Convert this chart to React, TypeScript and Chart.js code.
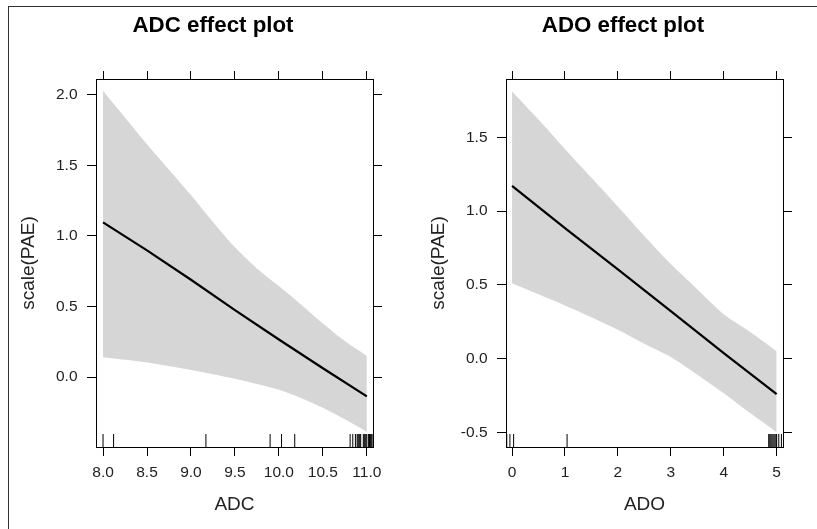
import React, { useEffect, useRef } from "react";
import { Chart, registerables } from "chart.js";

Chart.register(...registerables);

const FONT = '"Liberation Sans", Arial, Helvetica, sans-serif';

// ---------- ADC effect plot ----------
const adcTicksX = [8.0, 8.5, 9.0, 9.5, 10.0, 10.5, 11.0];
const adcTickLabelsX = ["8.0", "8.5", "9.0", "9.5", "10.0", "10.5", "11.0"];
const adcTicksY = [0.0, 0.5, 1.0, 1.5, 2.0];
const adcTickLabelsY = ["0.0", "0.5", "1.0", "1.5", "2.0"];
const adcFitX = [8.0, 8.5, 9.0, 9.5, 10.0, 10.5, 11.0];
const adcFit = [1.097, 0.898, 0.69, 0.475, 0.266, 0.062, -0.137];
const adcBandX = [8.0, 8.25, 8.5, 8.75, 9.0, 9.25, 9.5, 9.75, 10.0, 10.25, 10.5, 10.75, 11.0];
const adcUpper = [2.03, 1.84, 1.65, 1.47, 1.29, 1.1, 0.92, 0.77, 0.645, 0.515, 0.38, 0.255, 0.15];
const adcLower = [0.14, 0.122, 0.103, 0.078, 0.05, 0.02, -0.013, -0.05, -0.09, -0.148, -0.218, -0.3, -0.39];
const adcRug = [
  8.0, 8.12, 9.17, 9.9, 10.03, 10.18, 10.81, 10.84, 10.87, 10.89, 10.9, 10.91, 10.92, 10.93,
  10.96, 10.97, 10.98, 10.99, 11.0, 11.02, 11.03, 11.04, 11.05, 11.06,
];

// ---------- ADO effect plot ----------
const adoTicksX = [0, 1, 2, 3, 4, 5];
const adoTickLabelsX = ["0", "1", "2", "3", "4", "5"];
const adoTicksY = [-0.5, 0.0, 0.5, 1.0, 1.5];
const adoTickLabelsY = ["-0.5", "0.0", "0.5", "1.0", "1.5"];
const adoFitX = [0, 1, 2, 3, 4, 5];
const adoFit = [1.17, 0.884, 0.605, 0.321, 0.037, -0.242];
const adoBandX = [0, 0.5, 1.0, 1.5, 2.0, 2.5, 3.0, 3.5, 4.0, 4.5, 5.0];
const adoUpper = [1.81, 1.62, 1.42, 1.225, 1.03, 0.83, 0.64, 0.47, 0.3, 0.18, 0.05];
const adoLower = [0.51, 0.435, 0.36, 0.28, 0.195, 0.1, 0.01, -0.11, -0.235, -0.37, -0.5];
const adoRug = [-0.1, -0.04, 0.03, 1.04, 4.85, 4.87, 4.89, 4.91, 4.93, 4.95, 4.97, 4.99, 5.0, 5.04, 5.09];

type PanelCfg = {
  title: string;
  xTitle: string;
  yTitle: string;
  xMin: number;
  xMax: number;
  yMin: number;
  yMax: number;
  xTicks: number[];
  xTickLabels: string[];
  yTicks: number[];
  yTickLabels: string[];
  fitX: number[];
  fit: number[];
  bandX: number[];
  upper: number[];
  lower: number[];
  rug: number[];
};

const panels: PanelCfg[] = [
  {
    title: "ADC effect plot",
    xTitle: "ADC",
    yTitle: "scale(PAE)",
    xMin: 7.92,
    xMax: 11.07,
    yMin: -0.496,
    yMax: 2.113,
    xTicks: adcTicksX,
    xTickLabels: adcTickLabelsX,
    yTicks: adcTicksY,
    yTickLabels: adcTickLabelsY,
    fitX: adcFitX,
    fit: adcFit,
    bandX: adcBandX,
    upper: adcUpper,
    lower: adcLower,
    rug: adcRug,
  },
  {
    title: "ADO effect plot",
    xTitle: "ADO",
    yTitle: "scale(PAE)",
    xMin: -0.114,
    xMax: 5.12,
    yMin: -0.6,
    yMax: 1.895,
    xTicks: adoTicksX,
    xTickLabels: adoTickLabelsX,
    yTicks: adoTicksY,
    yTickLabels: adoTickLabelsY,
    fitX: adoFitX,
    fit: adoFit,
    bandX: adoBandX,
    upper: adoUpper,
    lower: adoLower,
    rug: adoRug,
  },
];

const CW = 426;
const CH = 529;

function Panel({ cfg, left }: { cfg: PanelCfg; left: number }) {
  const ref = useRef<HTMLCanvasElement | null>(null);

  useEffect(() => {
    if (!ref.current) return;
    const gridBase = (tl: number) => ({
      display: true,
      drawOnChartArea: false,
      drawTicks: true,
      tickLength: tl,
      color: "#000",
      lineWidth: 1,
    });
    const border = { display: true, color: "#000", width: 1 };
    const setTicks = (vals: number[]) => (s: any) => {
      s.ticks = vals.map((v) => ({ value: v }));
    };

    const chart = new Chart(ref.current, {
      type: "line",
      data: {
        datasets: [
          {
            label: "rug",
            data: cfg.rug.map((v) => ({ x: v, y: cfg.yMin })),
            showLine: false,
            pointStyle: "line",
            pointRadius: 13,
            pointRotation: 90,
            pointBorderColor: "#000",
            pointBackgroundColor: "#000",
            pointBorderWidth: 1,
            clip: 0,
          } as any,
          {
            label: "fit",
            data: cfg.fitX.map((x, i) => ({ x, y: cfg.fit[i] })),
            borderColor: "#000",
            borderWidth: 2.2,
            pointRadius: 0,
            tension: 0,
            fill: false,
          },
          {
            label: "upper",
            data: cfg.bandX.map((x, i) => ({ x, y: cfg.upper[i] })),
            borderColor: "rgba(0,0,0,0)",
            borderWidth: 0,
            backgroundColor: "#d6d6d6",
            pointRadius: 0,
            tension: 0.3,
            fill: "+1",
          },
          {
            label: "lower",
            data: cfg.bandX.map((x, i) => ({ x, y: cfg.lower[i] })),
            borderColor: "rgba(0,0,0,0)",
            borderWidth: 0,
            pointRadius: 0,
            tension: 0.3,
            fill: false,
          },
        ],
      },
      options: {
        animation: false,
        responsive: false,
        devicePixelRatio: 1,
        events: [],
        layout: { padding: 0 },
        plugins: {
          legend: { display: false },
          tooltip: { enabled: false },
          title: {
            display: true,
            text: cfg.title,
            color: "#000",
            font: { family: FONT, size: 22.3, weight: "bold", lineHeight: 1.2 },
            padding: { top: 12.6, bottom: 31.64 },
          },
        },
        scales: {
          x: {
            type: "linear",
            position: "bottom",
            min: cfg.xMin,
            max: cfg.xMax,
            afterBuildTicks: setTicks(cfg.xTicks),
            afterFit: (s: any) => {
              s.height = 82;
            },
            grid: gridBase(9),
            border,
            ticks: {
              display: true,
              autoSkip: false,
              maxRotation: 0,
              minRotation: 0,
              padding: 7.5,
              color: "#222",
              font: { family: FONT, size: 15.5, lineHeight: 1.2 },
              callback: (_v: any, i: number) => cfg.xTickLabels[i],
            },
            title: {
              display: true,
              text: cfg.xTitle,
              color: "#222",
              font: { family: FONT, size: 19, lineHeight: 1.2 },
              padding: { top: 0, bottom: 12.6 },
            },
          },
          x2: {
            type: "linear",
            position: "top",
            min: cfg.xMin,
            max: cfg.xMax,
            afterBuildTicks: setTicks(cfg.xTicks),
            afterFit: (s: any) => {
              s.height = 8;
            },
            grid: gridBase(8),
            border,
            ticks: { display: false },
          },
          y: {
            type: "linear",
            position: "left",
            min: cfg.yMin,
            max: cfg.yMax,
            afterBuildTicks: setTicks(cfg.yTicks),
            afterFit: (s: any) => {
              s.width = 96;
            },
            grid: gridBase(9),
            border,
            ticks: {
              display: true,
              autoSkip: false,
              padding: 9.5,
              color: "#222",
              font: { family: FONT, size: 15.5, lineHeight: 1.2 },
              callback: (_v: any, i: number) => cfg.yTickLabels[i],
            },
            title: {
              display: true,
              text: cfg.yTitle,
              color: "#222",
              font: { family: FONT, size: 19, lineHeight: 1.2 },
              padding: { top: 17.6, bottom: 0 },
            },
          },
          y2: {
            type: "linear",
            position: "right",
            min: cfg.yMin,
            max: cfg.yMax,
            afterBuildTicks: setTicks(cfg.yTicks),
            afterFit: (s: any) => {
              s.width = CW - 373;
            },
            grid: gridBase(9),
            border,
            ticks: { display: false },
          },
        },
      } as any,
    });
    return () => chart.destroy();
  }, [cfg]);

  return (
    <canvas
      ref={ref}
      width={CW}
      height={CH}
      style={{ position: "absolute", left, top: 0, width: CW, height: CH }}
    />
  );
}

export default function App() {
  return (
    <div
      style={{
        position: "absolute",
        left: 0,
        top: 0,
        width: 817,
        height: 529,
        overflow: "hidden",
        background: "#fff",
      }}
    >
      <div
        style={{
          position: "absolute",
          left: 8,
          top: 6,
          width: 1000,
          height: 1000,
          borderLeft: "1px solid #333",
          borderTop: "1px solid #333",
        }}
      />
      <Panel cfg={panels[0]} left={0} />
      <Panel cfg={panels[1]} left={410} />
    </div>
  );
}
